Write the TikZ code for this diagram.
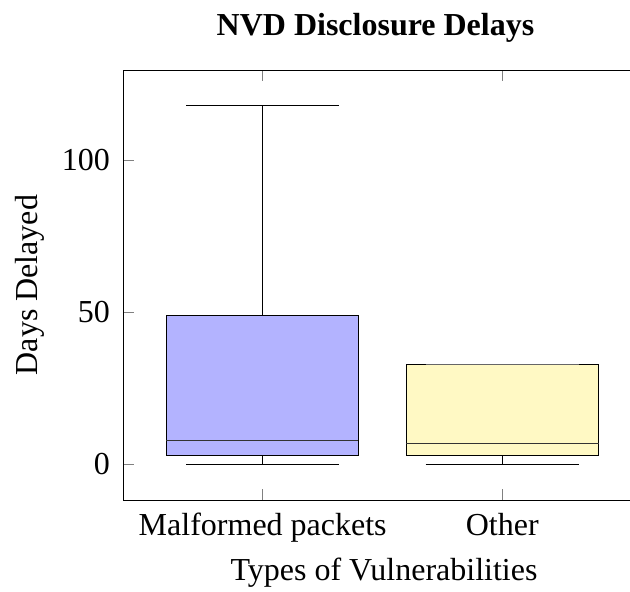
\documentclass[tikz,border=0pt]{standalone}
\usepackage{fontspec}
\setmainfont{Liberation Serif}
\definecolor{boxblue}{RGB}{179,179,255}
\definecolor{boxyellow}{RGB}{255,249,196}

\begin{document}
\begin{tikzpicture}[x=1pt,y=-1pt,
  lbl/.style={font=\fontsize{32}{38}\selectfont, inner sep=0pt},
  ttl/.style={font=\fontsize{32}{38}\selectfont\bfseries, inner sep=0pt},
  frame/.style={line width=0.9pt, black},
  tickmark/.style={line width=0.9pt, black!50},
  boxline/.style={line width=1pt, black},
  medline/.style={line width=1pt, black!80}]

\useasboundingbox (0,0) rectangle (630,592);

% title
\node[ttl, anchor=base] (title) at (375.5,35) {NVD Disclosure Delays};

% ticks (inside the frame)
\foreach \yy in {160,312,464}
  \draw[tickmark] (123,\yy) -- (134,\yy);
\foreach \xx in {262.7,502.3} {
  \draw[tickmark] (\xx,500) -- (\xx,489);
  \draw[tickmark] (\xx,70) -- (\xx,81);
}

% group 1: Malformed packets
\draw[boxline] (262.7,455) -- (262.7,464);
\draw[boxline] (186,464) -- (339.4,464);
\draw[boxline] (262.7,315.3) -- (262.7,105.3);
\draw[boxline] (186,105.3) -- (339.4,105.3);
\draw[boxline, fill=boxblue] (166.3,315.3) rectangle (358.3,455);
\draw[medline] (166.3,440.3) -- (358.3,440.3);

% group 2: Other
\draw[boxline] (502.3,455) -- (502.3,464);
\draw[boxline] (425.6,464) -- (579,464);
\draw[boxline, fill=boxyellow] (406.3,364) rectangle (598.7,455);
\draw[medline] (406.3,443.3) -- (598.7,443.3);
\draw[line width=1pt, black!60] (425.6,364) -- (579,364);

% frame
\draw[frame] (630,70) -- (123,70) -- (123,500) -- (630,500);

% y tick labels
\node[lbl, anchor=east] (y100) at (110,160) {100};
\node[lbl, anchor=east] (y50) at (110,312) {50};
\node[lbl, anchor=east] (y0) at (110,464) {0};

% x tick labels
\node[lbl, anchor=base] (xmal) at (262.7,535) {Malformed packets};
\node[lbl, anchor=base] (xoth) at (502.3,535) {Other};

% axis labels
\node[lbl, anchor=base] (xlab) at (384,580) {Types of Vulnerabilities};
\node[lbl, anchor=base, rotate=90] (ylab) at (37,285) {Days Delayed};

\end{tikzpicture}
\end{document}
